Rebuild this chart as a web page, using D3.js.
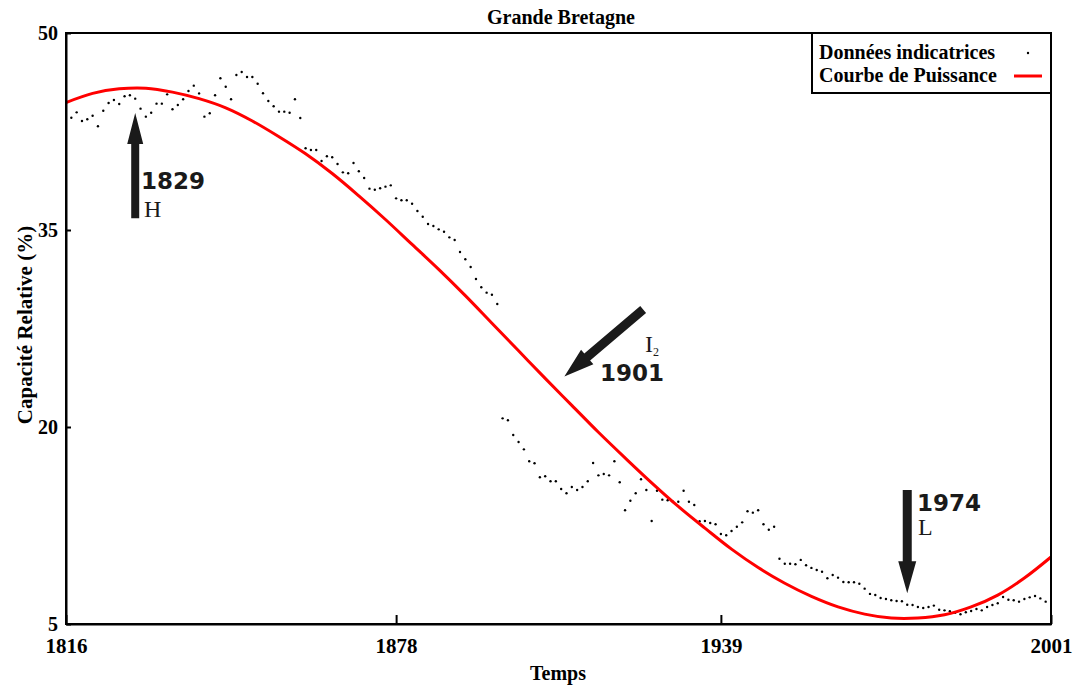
<!DOCTYPE html>
<html>
<head>
<meta charset="utf-8">
<script src="https://cdn.jsdelivr.net/npm/d3@7"></script>
<style>
  html, body { margin: 0; padding: 0; background: #fff; }
  svg { display: block; }
</style>
</head>
<body>
<svg id="chart" width="1084" height="690"></svg>
<script>
// ---------- data ----------
const chartTitle = "Grande Bretagne";
const xLabel = "Temps";
const yLabel = "Capacité Relative (%)";
const seriesNames = ["Données indicatrices", "Courbe de Puissance"];
const xTicks = [1816, 1878, 1939, 2001];
const yTicks = [5, 20, 35, 50];

// indicator data, one value per year starting at firstYear
const firstYear = 1817;
const indicatorValues = [
  43.55, 43.96, 43.30, 43.43, 43.70, 42.90, 44.08, 44.67, 44.90, 44.59, // 1817-1826
  45.18, 45.26, 45.00, 44.24, 43.63, 43.93, 44.62, 44.62, 45.33, 44.19, // 1827-1836
  44.52, 44.95, 45.58, 45.99, 45.40, 43.63, 43.89, 45.26, 46.55, 45.91, // 1837-1846
  44.95, 46.80, 47.03, 46.65, 46.65, 46.14, 45.41, 44.82, 44.42, 44.01, // 1847-1856
  44.01, 43.93, 44.95, 43.53, 41.22, 41.09, 41.09, 40.25, 40.61, 40.54, // 1857-1866
  40.03, 39.39, 39.32, 40.10, 39.47, 38.96, 38.15, 38.07, 38.18, 38.30, // 1867-1876
  38.40, 37.41, 37.26, 37.26, 37.00, 36.45, 36.01, 35.46, 35.30, 35.05, // 1877-1886
  34.87, 34.44, 34.24, 33.33, 32.77, 32.18, 31.27, 30.64, 30.23, 30.07, // 1887-1896
  29.37, 20.66, 20.51, 19.39, 18.86, 18.30, 17.39, 17.24, 16.17, 16.25, // 1897-1906
  15.87, 15.87, 15.28, 14.95, 15.43, 15.20, 15.43, 15.87, 17.26, 16.32, // 1907-1916
  16.42, 16.32, 17.39, 15.79, 13.66, 14.39, 14.95, 16.02, 15.20, 12.84, // 1917-1926
  15.15, 14.47, 14.42, 14.31, 14.31, 15.15, 14.31, 14.06, 12.82, 12.84, // 1927-1936
  12.69, 12.59, 11.85, 11.76, 12.08, 12.41, 12.74, 13.58, 13.48, 13.66, // 1937-1946
  12.59, 12.18, 12.41, 9.97, 9.59, 9.59, 9.55, 9.88, 9.47, 9.27,        // 1947-1956
  9.11, 8.98, 8.48, 8.73, 8.53, 8.20, 8.18, 8.18, 8.07, 7.69,           // 1957-1966
  7.29, 7.21, 6.98, 6.90, 6.81, 6.75, 6.73, 6.47, 6.45, 6.30,           // 1967-1976
  6.22, 6.30, 6.40, 6.09, 6.04, 5.97, 5.86, 5.74, 5.89, 5.99,           // 1977-1986
  6.14, 6.04, 6.30, 6.45, 6.58, 7.06, 6.85, 6.81, 6.70, 6.90,           // 1987-1996
  7.03, 7.13, 6.95, 6.70                                                // 1997-2000
];

// power curve, read every 5 years
const curveYears = [1816, 1821, 1826, 1831, 1836, 1841, 1846, 1851, 1856, 1861,
  1866, 1871, 1876, 1881, 1886, 1891, 1896, 1901, 1906, 1911,
  1916, 1921, 1926, 1931, 1936, 1941, 1946, 1951, 1956, 1961,
  1966, 1971, 1976, 1981, 1986, 1991, 1996, 2001];
const curveValues = [44.7, 45.4, 45.75, 45.8, 45.5, 45.0, 44.3, 43.3, 42.1, 40.8,
  39.3, 37.6, 35.8, 33.9, 32.0, 30.0, 27.9, 25.8, 23.7, 21.65,
  19.6, 17.65, 15.75, 13.95, 12.3, 10.7, 9.3, 8.1, 7.1, 6.3,
  5.75, 5.45, 5.45, 5.7, 6.3, 7.2, 8.5, 10.1];

// annotation labels
const annoLabels = ["1829", "1901", "1974"];
const annoLetters = ["H", "I", "L"];

// ---------- drawing ----------
const svg = d3.select("#chart");
const margin = {left: 66, right: 33, top: 33, bottom: 66};
const W = 1084, H = 690;

const x = d3.scaleLinear().domain([1816, 2001]).range([margin.left, W - margin.right]);
const y = d3.scaleLinear().domain([5, 50]).range([H - margin.bottom, margin.top]);

const serif = "'Liberation Serif', 'Times New Roman', serif";
const sans = "'DejaVu Sans', Verdana, sans-serif";
const ink = "#1a1a1a";

// data points
const pts = indicatorValues.map((v, i) => ({year: firstYear + i, value: v}));
svg.append("g").selectAll("circle").data(pts).join("circle")
  .attr("cx", d => x(d.year))
  .attr("cy", d => y(d.value))
  .attr("r", 1.2)
  .attr("fill", "#000");

// power curve
const curveData = curveYears.map((yr, i) => ({year: yr, value: curveValues[i]}));
svg.append("path")
  .datum(curveData)
  .attr("fill", "none")
  .attr("stroke", "#ff0000")
  .attr("stroke-width", 3)
  .attr("d", d3.line().x(d => x(d.year)).y(d => y(d.value)).curve(d3.curveCatmullRom));

// frame
svg.append("rect")
  .attr("x", x(1816)).attr("y", y(50))
  .attr("width", x(2001) - x(1816)).attr("height", y(5) - y(50))
  .attr("fill", "none").attr("stroke", "#000").attr("stroke-width", 2);

// x axis
const xAxis = d3.axisBottom(x).tickValues(xTicks).tickFormat(d3.format("d")).tickSizeInner(-9).tickSizeOuter(0).tickPadding(14);
const gx = svg.append("g").attr("transform", `translate(0,${y(5)})`).call(xAxis);
gx.select(".domain").attr("stroke", "#000").attr("stroke-width", 2);
gx.selectAll(".tick line").attr("stroke", "#000").attr("stroke-width", 2);
gx.selectAll(".tick text").attr("font-family", serif).attr("font-weight", "bold")
  .attr("font-size", 21).attr("fill", "#000");

// y axis
const yAxis = d3.axisLeft(y).tickValues(yTicks).tickFormat(d3.format("d")).tickSizeInner(-5).tickSizeOuter(0).tickPadding(8);
const gy = svg.append("g").attr("transform", `translate(${x(1816)},0)`).call(yAxis);
gy.select(".domain").attr("stroke", "#000").attr("stroke-width", 2);
gy.selectAll(".tick line").attr("stroke", "#000").attr("stroke-width", 2);
gy.selectAll(".tick text").attr("font-family", serif).attr("font-weight", "bold")
  .attr("font-size", 20).attr("fill", "#000");

// title and labels
svg.append("text").attr("x", 561).attr("y", 24).attr("text-anchor", "middle")
  .attr("font-family", serif).attr("font-weight", "bold").attr("font-size", 20).text(chartTitle);
svg.append("text").attr("x", 558).attr("y", 680).attr("text-anchor", "middle")
  .attr("font-family", serif).attr("font-weight", "bold").attr("font-size", 20).text(xLabel);
svg.append("text").attr("transform", "translate(32,325) rotate(-90)").attr("text-anchor", "middle")
  .attr("font-family", serif).attr("font-weight", "bold").attr("font-size", 21).text(yLabel);

// legend
const lg = svg.append("g");
lg.append("rect").attr("x", 812).attr("y", 33).attr("width", x(2001) - 812).attr("height", 60)
  .attr("fill", "#fff").attr("stroke", "#000").attr("stroke-width", 2);
lg.append("text").attr("x", 819).attr("y", 59).attr("font-family", serif).attr("font-weight", "bold")
  .attr("font-size", 20).text(seriesNames[0]);
lg.append("text").attr("x", 819).attr("y", 82).attr("font-family", serif).attr("font-weight", "bold")
  .attr("font-size", 20).text(seriesNames[1]);
lg.append("circle").attr("cx", 1028).attr("cy", 53).attr("r", 1.2).attr("fill", "#000");
lg.append("line").attr("x1", 1014).attr("x2", 1042).attr("y1", 76).attr("y2", 76)
  .attr("stroke", "#ff0000").attr("stroke-width", 3);

// arrows
function arrow(x0, y0, x1, y1, shaftW, headW, headL) {
  const dx = x1 - x0, dy = y1 - y0, L = Math.hypot(dx, dy);
  const ux = dx / L, uy = dy / L, px = -uy, py = ux;
  const bx = x1 - ux * headL, by = y1 - uy * headL;
  const p = [
    [x0 + px * shaftW / 2, y0 + py * shaftW / 2],
    [bx + px * shaftW / 2, by + py * shaftW / 2],
    [bx + px * headW / 2, by + py * headW / 2],
    [x1, y1],
    [bx - px * headW / 2, by - py * headW / 2],
    [bx - px * shaftW / 2, by - py * shaftW / 2],
    [x0 - px * shaftW / 2, y0 - py * shaftW / 2]
  ];
  svg.append("path").attr("d", "M" + p.map(q => q.join(",")).join("L") + "Z").attr("fill", ink);
}
// H: 1829, upward
arrow(x(1829), y(35.9), x(1829), y(43.9), 8, 16, 31);
// I2: 1901, diagonal
arrow(x(1924.4), y(28.95), x(1909.6), y(23.85), 9, 19, 30);
// L: 1974, downward
arrow(x(1974), y(15.2), x(1974), y(7.35), 9, 18, 32);

const big = {"font-family": sans, "font-weight": "bold", "font-size": 23, "fill": ink};
function txt(xx, yy, s, attrs) {
  const t = svg.append("text").attr("x", xx).attr("y", yy).text(s);
  Object.entries(attrs).forEach(([k, v]) => t.attr(k, v));
  return t;
}
const letter = {"font-family": serif, "font-size": 24, "fill": ink};
txt(141, 189, annoLabels[0], big);
txt(144, 217, annoLetters[0], letter);
txt(600, 381, annoLabels[1], big);
const i2 = txt(645, 352, annoLetters[1], letter);
i2.append("tspan").attr("font-size", 12).attr("dy", 4).text("2");
txt(917, 511, annoLabels[2], big);
txt(918, 535, annoLetters[2], letter);
</script>
</body>
</html>
